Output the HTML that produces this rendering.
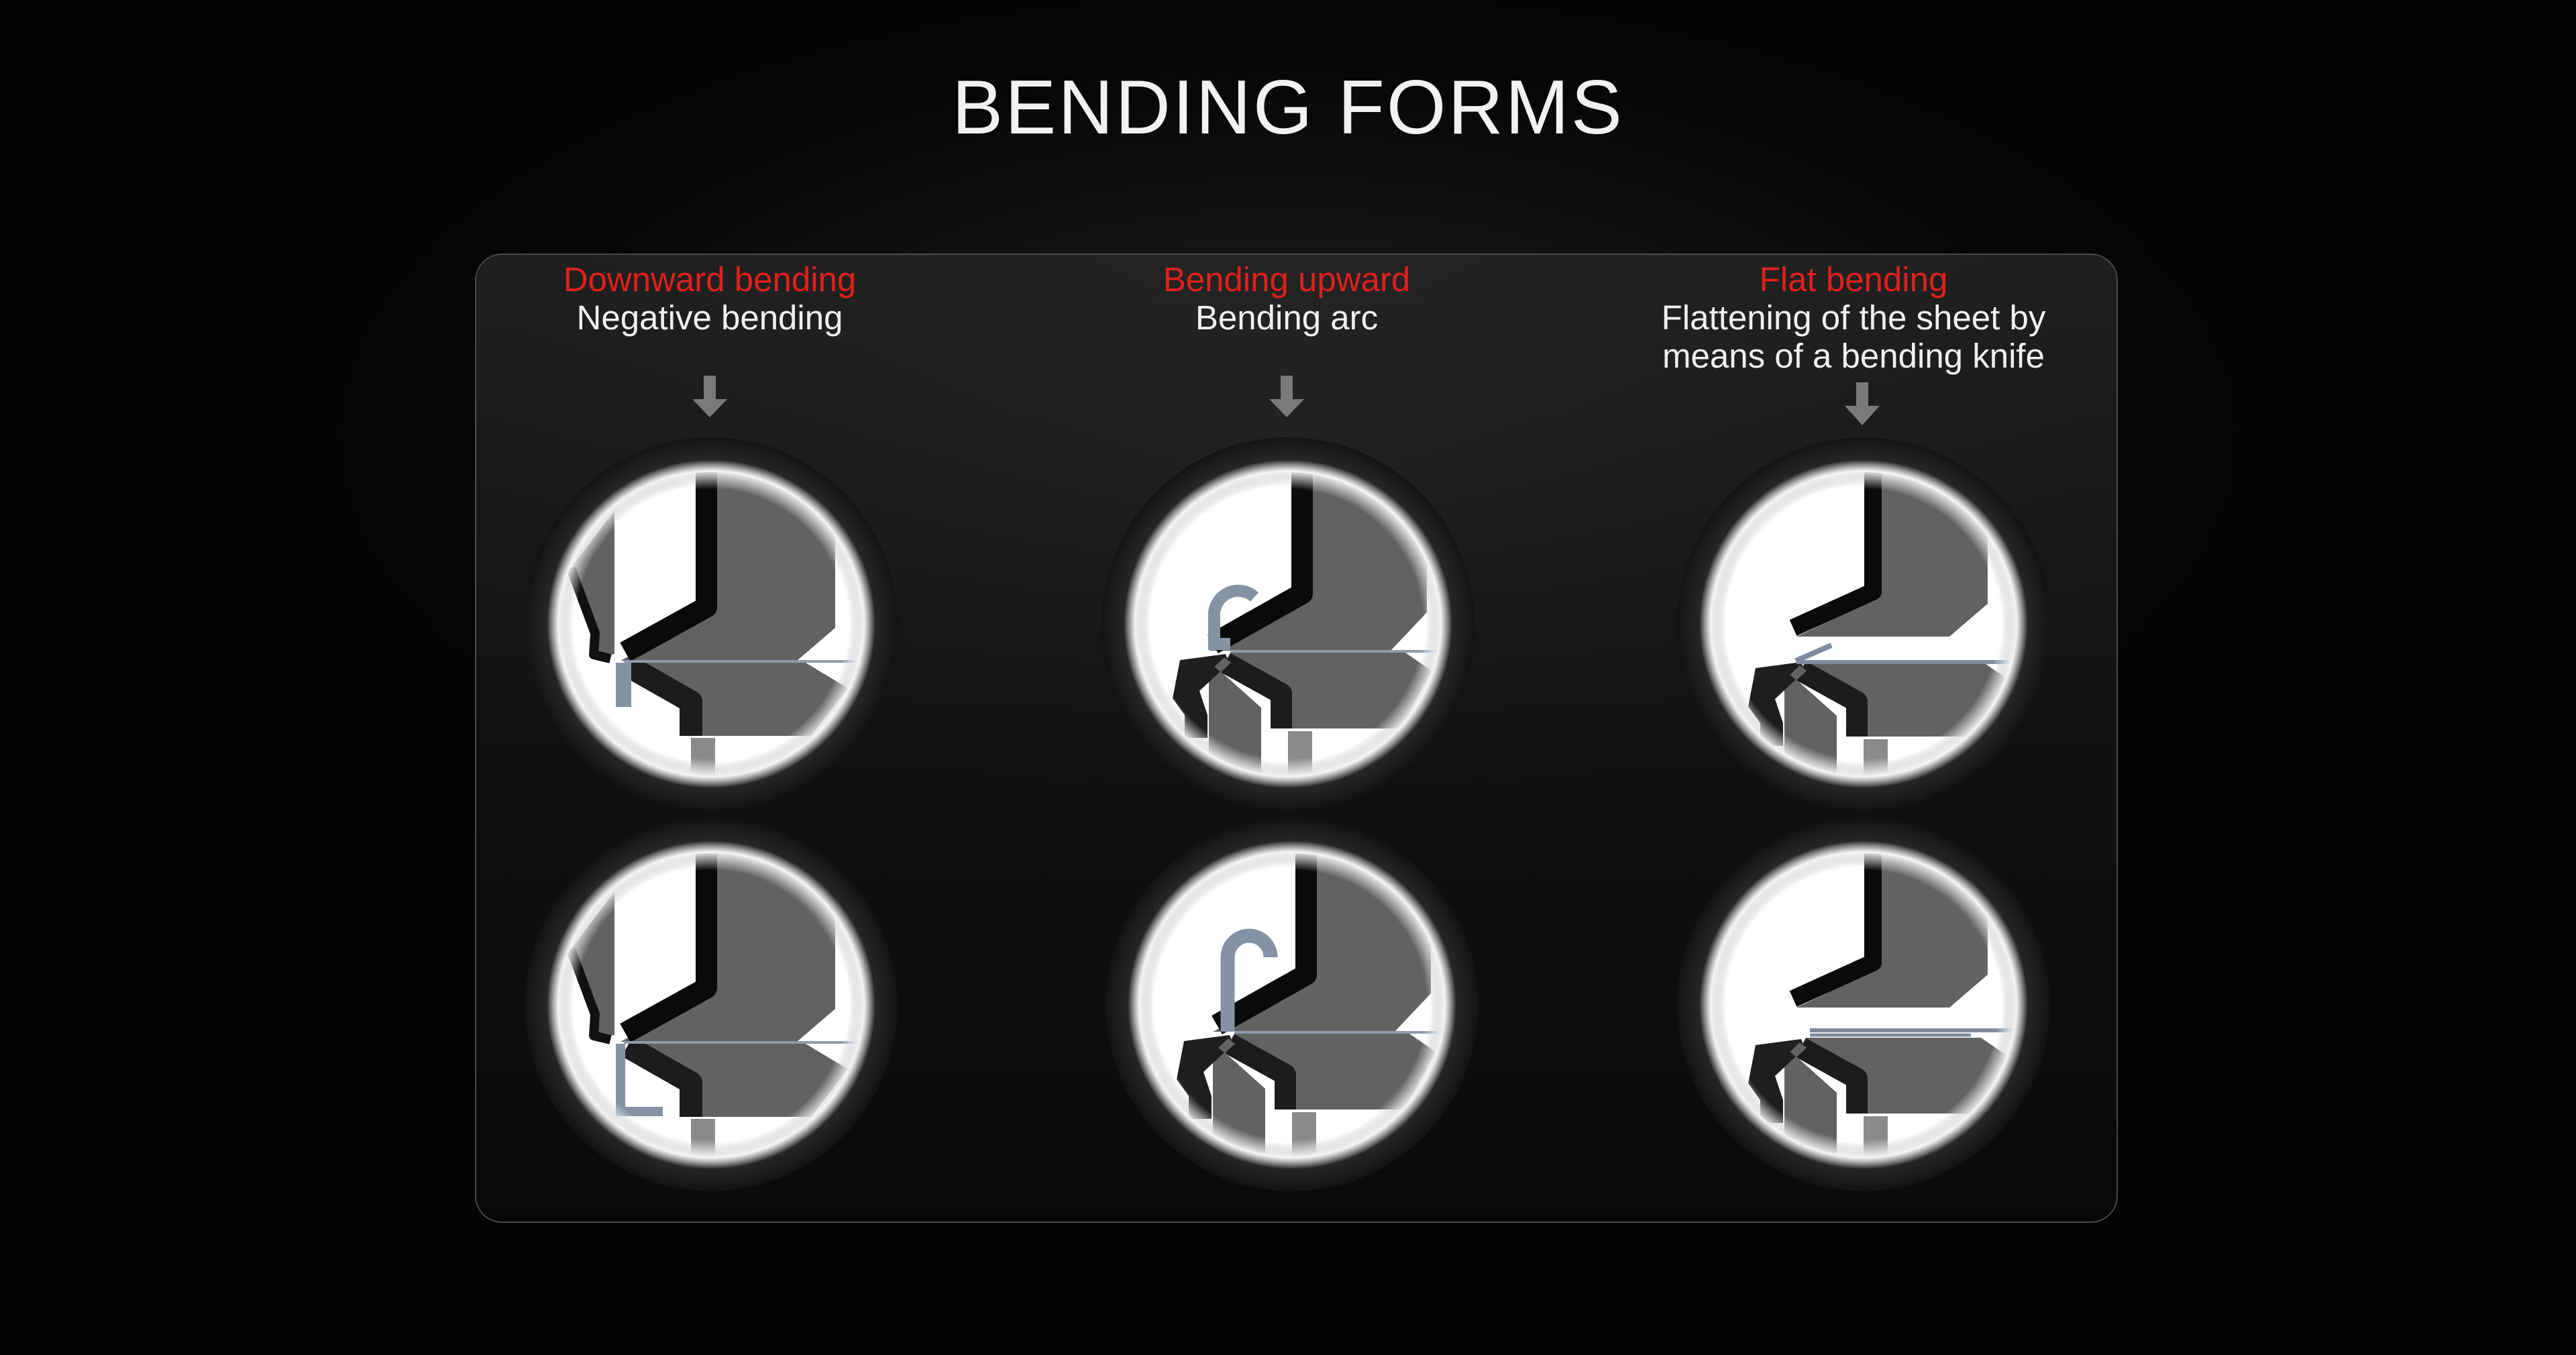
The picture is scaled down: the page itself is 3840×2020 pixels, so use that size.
<!DOCTYPE html>
<html><head><meta charset="utf-8"><style>
html,body{margin:0;padding:0;background:#050505;}
body{width:3840px;height:2020px;position:relative;overflow:hidden;font-family:"Liberation Sans",sans-serif;
background:radial-gradient(ellipse 1500px 700px at 1920px 650px,#262626 0%,#121212 45%,#060606 80%,#040404 100%);}
.title{position:absolute;left:0;width:3840px;top:96px;text-align:center;color:#f2f2f2;font-size:114px;font-weight:normal;letter-spacing:3px;line-height:130px;}
.panel{position:absolute;left:708px;top:378px;width:2449px;height:1445px;border:2px solid #4a4a4a;border-radius:40px;
background:linear-gradient(180deg,rgba(40,40,40,0.75) 0%,rgba(20,20,20,0.8) 50%,rgba(10,10,10,0.85) 100%);box-sizing:border-box;}
.lab{position:absolute;text-align:center;font-size:51px;line-height:57px;color:#f0f0f0;width:1000px;}
.lab .r{color:#e0201c;}
svg{position:absolute;left:0;top:0;}
</style></head><body>
<div class="title">BENDING FORMS</div>
<div class="panel"></div>
<div class="lab" style="left:558px;top:388px;"><div class="r">Downward bending</div>Negative bending</div>
<div class="lab" style="left:1418px;top:388px;"><div class="r">Bending upward</div>Bending arc</div>
<div class="lab" style="left:2263px;top:388px;"><div class="r">Flat bending</div>Flattening of the sheet by<br>means of a bending knife</div>
<svg width="3840" height="2020" viewBox="0 0 3840 2020">
<defs>
<radialGradient id="ring" cx="0.5" cy="0.5" r="0.5">
<stop offset="0" stop-color="#fff"/><stop offset="0.74" stop-color="#fff"/>
<stop offset="0.83" stop-color="#8a8a8a"/><stop offset="0.88" stop-color="#262626"/>
<stop offset="0.96" stop-color="#1a1a1a"/><stop offset="1" stop-color="#121212"/>
</radialGradient>
<radialGradient id="glow" cx="0.5" cy="0.5" r="0.5">
<stop offset="0" stop-color="#fff" stop-opacity="0"/><stop offset="0.82" stop-color="#fff" stop-opacity="0"/>
<stop offset="0.93" stop-color="#fff" stop-opacity="0.9"/><stop offset="1" stop-color="#aaa" stop-opacity="0"/>
</radialGradient>
<clipPath id="cc"><circle cx="0" cy="0" r="226"/></clipPath>
<g id="bg"><circle r="278" fill="url(#ring)"/></g>
<g id="punchA">
<polygon points="-7,-240 185,-240 185,6 128,55 -135,55 -7,-12" fill="#626262"/>
<polyline points="-7,-240 -7,-25 -128,42" fill="none" stroke="#0a0a0a" stroke-width="32" stroke-linejoin="round"/>
</g>
<g id="punchB">
<polygon points="21,-240 207,-240 207,-17 153,40 -118,40 21,-28" fill="#626262"/>
<polyline points="21,-240 21,-45 -112,30" fill="none" stroke="#0a0a0a" stroke-width="32" stroke-linejoin="round"/>
</g>
<g id="punchC">
<polygon points="14,-240 185,-240 185,-30 128,19 -100,19 14,-35" fill="#626262"/>
<polyline points="14,-240 14,-48 -105,6" fill="none" stroke="#0a0a0a" stroke-width="26" stroke-linejoin="round"/>
</g>
<g id="dieA">
<polygon points="-118,58 141,58 204,96 149,167 -23,167 -23,124 -119,67" fill="#626262"/>
<polyline points="-125,62 -30,116 -30,167" fill="none" stroke="#1c1c1c" stroke-width="34" stroke-linejoin="round"/>
<rect x="-30" y="170" width="36" height="70" fill="#8a8a8a"/>
<polygon points="-144,-169 -144,45 -175,50 -173,14 -209,-83" fill="#626262"/>
<polyline points="-209,-83 -173,14 -175,46 -150,52" fill="none" stroke="#111" stroke-width="14" stroke-linejoin="round"/>
</g>
<g id="dieB">
<polygon points="-86,43 175,43 214,70 168,156 6,156 6,104 -93,54" fill="#626262"/>
<polyline points="-93,58 -10,104 -10,156" fill="none" stroke="#1c1c1c" stroke-width="32" stroke-linejoin="round"/>
<rect x="0" y="160" width="36" height="80" fill="#8a8a8a"/>
<polygon points="-118,60 -107,65 -40,125 -40,240 -118,240" fill="#626262"/>
<polygon points="-161,54 -93,45 -88,59 -132,100 -120,136 -120,170 -154,170 -154,136 -172,111" fill="#1e1e1e"/>
<polygon points="-95,50 -85,58 -100,72 -110,64" fill="#626262"/>
</g>
</defs>

<g transform="translate(1060,930)">
<use href="#bg"/>
<g clip-path="url(#cc)">
<use href="#dieA"/><use href="#punchA"/>
<line x1="-130" y1="56" x2="230" y2="56" stroke="#8e9bab" stroke-width="4"/>
<rect x="-142" y="58" width="23" height="66" fill="#8592a3"/>
</g>
<circle r="245" fill="url(#glow)"/>
</g>
<g transform="translate(1060,1498)">
<use href="#bg"/>
<g clip-path="url(#cc)">
<use href="#dieA"/><use href="#punchA"/>
<line x1="-130" y1="56" x2="230" y2="56" stroke="#8e9bab" stroke-width="4"/>
<rect x="-142" y="58" width="14" height="108" fill="#8592a3"/>
<rect x="-142" y="152" width="70" height="14" fill="#8592a3"/>
</g>
<circle r="245" fill="url(#glow)"/>
</g>
<g transform="translate(1920,930)">
<use href="#bg"/>
<g clip-path="url(#cc)">
<use href="#dieB"/><use href="#punchB"/>
<line x1="-86" y1="41" x2="230" y2="41" stroke="#8e9bab" stroke-width="4"/>
<path d="M -86,30 L -110,30 L -110,-10 A 36,36 0 0 1 -50,-40" fill="none" stroke="#8592a3" stroke-width="18"/>
</g>
<circle r="245" fill="url(#glow)"/>
</g>
<g transform="translate(1926,1498)">
<use href="#bg"/>
<g clip-path="url(#cc)">
<use href="#dieB"/><use href="#punchB"/>
<line x1="-86" y1="41" x2="230" y2="41" stroke="#8e9bab" stroke-width="4"/>
<path d="M -96,40 L -96,-71 A 32,32 0 0 1 -32,-71" fill="none" stroke="#8592a3" stroke-width="21"/>
</g>
<circle r="245" fill="url(#glow)"/>
</g>
<g transform="translate(2778,930)">
<use href="#bg"/>
<g clip-path="url(#cc)">
<g transform="translate(0,12)"><use href="#dieB"/></g><use href="#punchC"/>
<line x1="-100" y1="57" x2="230" y2="57" stroke="#7e8ba0" stroke-width="6"/>
<line x1="-101" y1="55" x2="-48" y2="32" stroke="#7e8ba0" stroke-width="8"/>
</g>
<circle r="245" fill="url(#glow)"/>
</g>
<g transform="translate(2778,1498)">
<use href="#bg"/>
<g clip-path="url(#cc)">
<g transform="translate(0,6)"><use href="#dieB"/></g>
<g transform="translate(0,-15)"><use href="#punchC"/></g>
<line x1="-80" y1="38" x2="230" y2="38" stroke="#7e8ba0" stroke-width="6"/>
<line x1="-80" y1="45" x2="160" y2="45" stroke="#7e8ba0" stroke-width="5"/>
</g>
<circle r="245" fill="url(#glow)"/>
</g>

<g fill="#7a7a7a">
<polygon points="1049,560 1067,560 1067,595 1084,595 1058,622 1032,595 1049,595"/>
<polygon points="1909,560 1927,560 1927,595 1944,595 1918,622 1892,595 1909,595"/>
<polygon points="2767,570 2785,570 2785,605 2802,605 2776,634 2750,605 2767,605"/>
</g>
</svg>
</body></html>
